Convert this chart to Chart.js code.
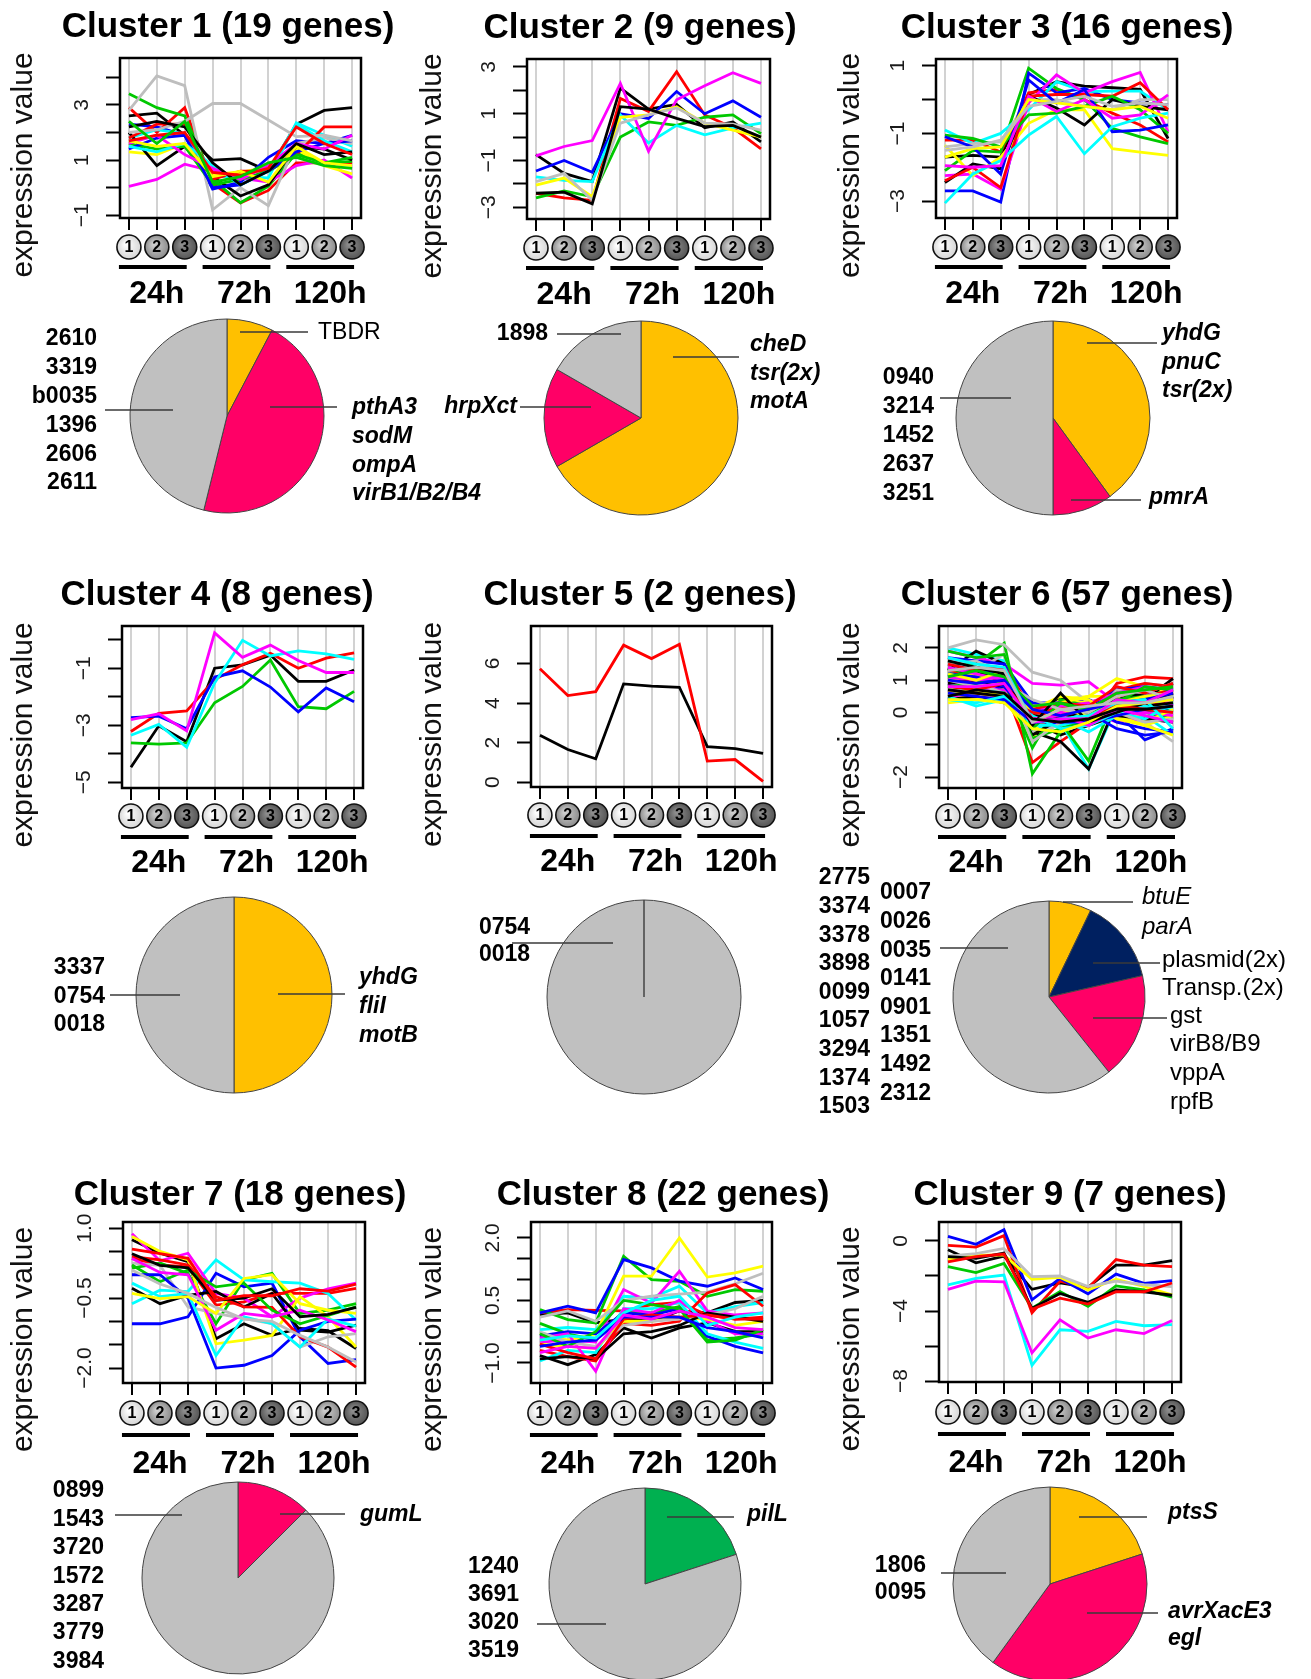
<!DOCTYPE html>
<html lang="en">
<head>
<meta charset="utf-8">
<title>Expression profile clusters</title>
<script src="https://cdn.jsdelivr.net/npm/chart.js@4.4.1/dist/chart.umd.min.js"></script>
<style>
  html, body { margin: 0; padding: 0; background: #fff; }
  #figure { position: relative; width: 1311px; height: 1679px; overflow: hidden; background: #fff; }
  #figure canvas { position: absolute; }
</style>
</head>
<body>
<div id="figure"></div>
<script>
// ---------- shared categories ----------
const REPLICATES = ['1', '2', '3', '1', '2', '3', '1', '2', '3'];
const TIMES = ['24h', '72h', '120h'];
const Y_TITLE = 'expression value';

// ---------- cluster 1 ----------
const C1_TITLE = 'Cluster 1 (19 genes)';
const C1_YRANGE = [-1.1, 4.7];
const C1_YTICKS = [-1, 0, 1, 2, 3, 4];
const C1_YLABELS = ['\u22121', '', '1', '', '3', ''];
const C1_PROFILES = [
  [2.6, 2.7, 1.9, 1.0, 1.05, 0.6, 2.3, 2.8, 2.9],
  [2.9, 2.0, 2.9, 0.15, -0.55, -0.1, 0.9, 0.9, 0.9],
  [3.4, 2.9, 2.6, 0.3, -0.55, 0.05, 1.25, 0.9, 0.95],
  [2.3, 2.2, 1.9, -0.05, 0.2, 1.1, 1.7, 1.6, 1.9],
  [1.8, 2.1, 1.95, 0.4, 0.4, 0.35, 2.35, 1.9, 1.5],
  [0.05, 0.3, 0.85, 0.6, 0.35, 0.2, 0.8, 1.0, 0.35],
  [1.3, 1.2, 1.6, 0.5, 0.55, 0.75, 1.4, 0.8, 0.5],
  [2.8, 4.05, 3.7, -0.8, 0.0, -0.65, 1.6, 1.8, 1.6],
  [2.0, 0.8, 1.5, 0.4, -0.3, 0.1, 1.5, 1.4, 1.0],
  [1.8, 2.3, 2.3, 0.3, 0.6, 0.6, 1.2, 2.2, 2.2],
  [1.6, 1.4, 1.5, 0.1, 0.3, 0.6, 1.2, 0.9, 1.1],
  [1.4, 1.8, 1.9, 0.0, 0.1, 0.6, 1.3, 1.6, 1.7],
  [1.5, 1.3, 1.6, 0.8, 0.1, 0.6, 2.3, 1.7, 1.3],
  [1.6, 1.9, 1.2, 0.7, 0.3, 0.8, 1.6, 1.4, 1.9],
  [1.7, 1.5, 1.6, 0.4, 0.6, 0.2, 1.5, 0.9, 0.8],
  [2.0, 2.1, 2.4, 3.05, 3.05, 2.45, 1.85, 1.9, 1.7],
  [2.2, 2.4, 2.2, 0.9, 0.1, 0.6, 1.6, 1.2, 1.3],
  [1.7, 1.9, 2.0, 0.55, 0.45, 0.7, 2.2, 1.6, 1.2],
  [2.4, 1.6, 2.4, 0.2, 0.4, 0.9, 1.1, 0.8, 0.7]
];
const C1_PIE_COUNTS = [1, 6, 6];
const C1_PIE_GENES = [['TBDR'], ['pthA3', 'sodM', 'ompA', 'virB1/B2/B4'], ['2610', '3319', 'b0035', '1396', '2606', '2611']];

// ---------- cluster 2 ----------
const C2_TITLE = 'Cluster 2 (9 genes)';
const C2_YRANGE = [-3.5, 3.34];
const C2_YTICKS = [-3, -2, -1, 0, 1, 2, 3];
const C2_YLABELS = ['\u22123', '', '\u22121', '', '1', '', '3'];
const C2_PROFILES = [
  [-0.75, -1.55, -1.9, 2.1, 1.2, 1.4, 0.4, 0.65, -0.2],
  [-2.4, -2.6, -2.7, 1.65, 1.1, 2.8, 0.95, 0.4, -0.5],
  [-2.6, -2.3, -2.55, 0.0, 0.65, 0.5, 0.85, 0.95, 0.15],
  [-1.45, -1.0, -1.5, 1.0, 0.8, 1.95, 1.0, 1.55, 0.85],
  [-1.7, -1.85, -1.9, 0.95, -0.25, 0.5, 0.1, 0.4, 0.6],
  [-0.8, -0.4, -0.15, 2.3, -0.6, 1.6, 2.2, 2.75, 2.3],
  [-2.05, -1.75, -2.55, 0.85, 0.95, 1.3, 0.6, 0.3, 0.0],
  [-1.9, -1.55, -2.7, 0.6, 0.95, 1.25, 0.6, 0.55, 0.3],
  [-2.4, -2.35, -2.85, 1.3, 1.2, 0.8, 0.45, 0.5, 0.0]
];
const C2_PIE_COUNTS = [4, 1, 1];
const C2_PIE_GENES = [['cheD', 'tsr(2x)', 'motA'], ['hrpXct'], ['1898']];

// ---------- cluster 3 ----------
const C3_TITLE = 'Cluster 3 (16 genes)';
const C3_YRANGE = [-3.5, 1.2];
const C3_YTICKS = [-3, -2, -1, 0, 1];
const C3_YLABELS = ['\u22123', '', '\u22121', '', '1'];
const C3_PROFILES = [
  [-1.7, -1.65, -1.7, 0.15, 0.53, 0.4, 0.35, 0.3, -1.15],
  [-1.2, -1.2, -1.55, 0.2, 0.3, 0.0, -0.4, -0.75, -1.25],
  [-2.1, -1.5, -1.55, 0.93, 0.33, 0.0, -0.85, -1.1, -1.3],
  [-2.7, -2.7, -3.03, 0.78, 0.2, 0.33, 0.0, -0.1, -0.15],
  [-0.9, -1.3, -1.0, -0.3, 0.53, 0.24, 0.25, 0.25, -0.3],
  [-2.25, -2.2, -2.65, -0.1, 0.73, 0.2, 0.53, 0.8, -0.95],
  [-1.35, -2.25, -1.7, -0.7, -0.3, -0.3, -1.45, -1.55, -1.65],
  [-1.4, -1.3, -1.25, 0.0, 0.0, -0.2, -0.3, 0.0, 0.0],
  [-2.45, -1.9, -2.05, 0.1, -0.25, -0.75, 0.0, -0.2, -0.3],
  [-2.4, -2.0, -2.6, 0.1, 0.15, 0.15, 0.1, 0.5, -0.3],
  [-1.05, -1.15, -1.4, -0.45, -0.4, -0.2, 0.1, -0.3, -1.0],
  [-1.1, -1.4, -2.2, 0.58, -0.1, 0.3, -0.95, -0.9, -0.75],
  [-3.06, -2.2, -1.8, -1.05, -0.5, -1.6, -0.8, -0.55, -0.4],
  [-1.95, -2.0, -1.95, 0.1, -0.35, 0.0, -0.55, -0.45, 0.14],
  [-1.7, -1.45, -1.4, 0.0, -0.1, -0.2, -0.3, -0.2, -0.55],
  [-1.5, -1.4, -1.2, -0.2, -0.05, 0.1, -0.2, -0.1, -0.15]
];
const C3_PIE_COUNTS = [4, 1, 5];
const C3_PIE_GENES = [['yhdG', 'pnuC', 'tsr(2x)'], ['pmrA'], ['0940', '3214', '1452', '2637', '3251']];

// ---------- cluster 4 ----------
const C4_TITLE = 'Cluster 4 (8 genes)';
const C4_YRANGE = [-5.2, 0.48];
const C4_YTICKS = [-5, -4, -3, -2, -1, 0];
const C4_YLABELS = ['\u22125', '', '\u22123', '', '\u22121', ''];
const C4_PROFILES = [
  [-4.47, -3.02, -3.58, -1.0, -0.88, -0.54, -1.46, -1.46, -1.06],
  [-3.22, -2.58, -2.5, -1.4, -0.88, -0.48, -1.0, -0.65, -0.46],
  [-3.62, -3.66, -3.62, -2.21, -1.64, -0.71, -2.35, -2.42, -1.81],
  [-2.73, -2.68, -3.12, -1.31, -1.09, -1.66, -2.53, -1.69, -2.18],
  [-3.35, -2.97, -3.77, -1.52, -0.02, -0.57, -0.39, -0.5, -0.69],
  [-2.8, -2.6, -3.2, 0.24, -0.62, -0.19, -0.73, -1.15, -1.15]
];
const C4_PIE_COUNTS = [3, 3];
const C4_PIE_GENES = [['yhdG', 'fliI', 'motB'], ['3337', '0754', '0018']];

// ---------- cluster 5 ----------
const C5_TITLE = 'Cluster 5 (2 genes)';
const C5_YRANGE = [-0.25, 7.9];
const C5_YTICKS = [0, 2, 4, 6];
const C5_YLABELS = ['0', '2', '4', '6'];
const C5_PROFILES = [
  [2.37, 1.65, 1.18, 4.97, 4.86, 4.8, 1.79, 1.69, 1.45],
  [5.74, 4.38, 4.58, 6.93, 6.25, 6.97, 1.06, 1.14, 0.03]
];
const C5_PIE_COUNTS = [2];
const C5_PIE_GENES = [['0754', '0018']];

// ---------- cluster 6 ----------
const C6_TITLE = 'Cluster 6 (57 genes)';
const C6_YRANGE = [-2.34, 2.68];
const C6_YTICKS = [-2, -1, 0, 1, 2];
const C6_YLABELS = ['\u22122', '', '0', '1', '2'];
const C6_PROFILES = [
  [0.6, 0.6, 0.5, -0.3, -0.7, -0.4, -0.1, 0.0, 0.1],
  [1.1, 1.0, 0.8, -1.55, -0.9, -0.3, 0.9, 1.1, 1.05],
  [1.6, 1.5, 2.15, -1.9, -0.6, -0.2, 0.5, 0.6, 0.7],
  [1.5, 1.3, 1.2, 0.2, 0.2, 0.4, 0.0, -0.85, -0.5],
  [2.0, 1.8, 1.6, -0.2, -0.3, -1.75, 0.2, 0.1, 0.0],
  [1.9, 1.7, 1.5, 0.9, 0.85, 0.95, 0.3, 0.4, 0.6],
  [0.5, 0.5, 0.4, -0.8, 0.4, 0.5, 1.05, 0.8, 0.6],
  [2.0, 2.25, 2.1, 1.25, 1.0, 0.3, -0.2, -0.3, -0.9],
  [1.3, 1.9, 1.5, -0.6, -0.9, -1.75, 0.3, 0.4, 1.05],
  [0.9, 0.8, 0.6, 0.3, 0.2, 0.3, 0.5, 0.5, 0.7],
  [1.2, 1.4, 1.3, -0.3, 0.4, -0.1, -0.1, 0.0, -0.2],
  [1.4, 1.2, 0.9, -0.1, -0.2, -0.2, 0.5, 0.6, 0.4],
  [0.7, 0.6, 0.9, -0.5, -0.3, 0.0, 0.4, 0.3, 0.1],
  [0.5, 0.4, 0.5, 0.0, 0.1, 0.0, -0.3, -0.2, -0.3],
  [0.8, 0.9, 1.1, -0.2, 0.4, 0.3, 0.6, 0.2, 0.3],
  [1.7, 1.3, 1.8, -0.9, -0.2, -0.1, 0.4, 0.9, 0.8],
  [0.4, 0.5, 0.3, -0.1, 0.5, -0.2, 0.1, 0.2, 0.5],
  [1.3, 1.2, 0.9, 0.1, 0.2, 0.1, 0.7, 0.9, 0.8],
  [1.0, 0.8, 0.7, -0.4, -0.3, -1.5, 0.6, 0.4, 0.3],
  [0.9, 0.7, 0.8, 0.1, 0.0, 0.2, -0.3, -0.5, -0.6],
  [0.5, 0.2, 0.4, -0.3, -0.2, -0.6, -0.1, -0.1, -0.7],
  [0.9, 1.0, 0.6, -0.2, 0.0, 0.1, 0.8, 0.6, 0.5],
  [0.3, 0.4, 0.7, -0.4, -0.3, -0.2, -0.1, -0.4, -0.1],
  [1.2, 1.1, 1.0, 0.2, 0.3, -0.3, 0.2, 0.5, 0.6],
  [0.9, 1.0, 0.8, 0.0, 0.5, -0.1, 0.4, 0.6, 0.9],
  [1.0, 0.9, 1.2, -0.1, 0.2, 0.0, 0.3, 0.2, 0.4],
  [1.4, 1.1, 0.9, -1.1, 0.4, 0.2, 0.1, 0.3, 0.5],
  [1.7, 1.6, 1.5, 0.3, 0.3, 0.2, 0.7, 0.8, 0.7],
  [1.2, 1.0, 1.1, 0.0, -0.1, -0.1, 0.2, 0.3, 0.4],
  [0.6, 0.7, 0.7, 0.2, 0.3, 0.2, -0.1, 0.0, -0.1],
  [1.0, 1.2, 1.0, -0.6, 0.3, 0.5, 0.5, -0.3, 0.1],
  [0.8, 0.9, 0.6, -0.6, -0.4, -0.2, 0.7, 0.6, 0.9],
  [1.1, 1.3, 0.9, -0.7, -0.2, 0.1, -0.1, -0.2, -0.3],
  [0.7, 0.6, 0.5, 0.0, -0.1, 0.1, 0.5, 0.7, 0.4],
  [0.8, 0.9, 1.2, -0.8, -0.5, -0.2, 0.4, 0.5, 0.6],
  [1.2, 1.1, 0.8, -0.2, -0.4, 0.0, -0.5, -0.7, -0.6],
  [0.8, 0.7, 0.6, -0.4, -0.4, -0.2, 0.0, -0.2, 0.3],
  [1.4, 1.2, 1.0, 0.1, 0.2, 0.3, 0.6, 0.8, 0.2],
  [0.6, 0.7, 0.5, 0.1, 0.5, 0.4, -0.2, -0.4, -0.7],
  [1.5, 1.6, 1.2, -0.9, -0.3, -0.1, 0.0, -0.3, -0.2],
  [0.7, 0.6, 0.5, -0.1, -0.2, -0.2, 0.2, 0.2, 0.3],
  [1.5, 1.3, 1.4, 0.1, 0.3, 0.2, 0.8, 0.6, 0.9],
  [1.9, 1.7, 1.8, -0.5, 0.3, 0.0, 0.3, 0.8, 0.7],
  [0.6, 0.5, 0.4, -0.3, -0.3, -0.3, -0.1, 0.1, 0.2],
  [0.4, 0.3, 0.5, -0.1, -0.5, -0.4, 0.0, 0.2, 0.0],
  [1.1, 1.0, 1.1, -0.2, -0.1, -0.4, 0.1, -0.1, -0.3],
  [1.2, 1.0, 1.3, -0.3, 0.1, -0.1, 0.3, 0.5, 0.6],
  [1.0, 0.8, 0.9, 0.4, 0.1, 0.0, 0.5, 0.7, 0.4],
  [1.6, 1.4, 1.2, -0.4, 0.6, -0.3, 0.0, 0.3, 0.6],
  [0.8, 0.7, 0.9, -0.2, -0.3, -0.1, 0.2, 0.1, 0.0],
  [1.1, 1.3, 1.1, 0.2, 0.3, 0.1, 0.6, 0.7, 0.8],
  [1.0, 0.9, 1.0, 0.1, -0.1, 0.1, 0.3, 0.4, 0.6],
  [1.7, 1.5, 1.4, -0.3, -0.2, -0.1, 0.3, 0.4, -0.5],
  [0.8, 0.8, 0.9, -0.3, -0.2, -0.2, 0.4, 0.3, 0.7],
  [0.4, 0.4, 0.3, -0.5, -0.6, -0.3, 0.2, 0.3, 0.4],
  [1.3, 1.4, 1.3, -0.3, 0.1, 0.2, 0.3, 0.3, 0.5],
  [0.5, 0.7, 0.6, -0.2, -0.3, -0.2, 0.1, 0.1, 0.2]
];
const C6_PIE_COUNTS = [2, 4, 5, 17];
const C6_PIE_GENES = [
  ['btuE', 'parA'],
  ['plasmid(2x)', 'Transp.(2x)'],
  ['gst', 'virB8/B9', 'vppA', 'rpfB'],
  ['2775', '3374', '3378', '3898', '0099', '1057', '3294', '1374', '1503',
   '0007', '0026', '0035', '0141', '0901', '1351', '1492', '2312']
];

// ---------- cluster 7 ----------
const C7_TITLE = 'Cluster 7 (18 genes)';
const C7_YRANGE = [-2.32, 1.13];
const C7_YTICKS = [-2, -1.5, -1, -0.5, 0, 0.5, 1];
const C7_YLABELS = ['\u22122.0', '', '', '\u22120.5', '', '', '1.0'];
const C7_PROFILES = [
  [0.75, 0.46, 0.28, -1.37, -1.05, -1.3, -1.15, -1.2, -1.58],
  [0.35, 0.21, 0.17, -0.65, -0.58, -0.4, -0.4, -0.4, -0.29],
  [0.14, 0.25, 0.03, -1.05, -0.11, 0.03, -0.83, -0.76, -0.62],
  [-1.05, -1.05, -0.9, 0.03, -0.26, -0.18, -1.33, -1.9, -1.82],
  [-0.62, -0.33, -0.36, 0.32, -0.11, -0.15, -0.18, -0.4, -0.97],
  [0.88, 0.3, 0.46, -0.4, -0.5, -0.9, -0.5, -0.3, -0.18],
  [0.82, 0.5, 0.32, -1.48, -1.4, -1.3, -0.47, -0.9, -1.55],
  [0.25, 0.2, -0.69, -0.83, -0.94, -1.05, -1.55, -1.33, -1.26],
  [-0.29, -0.62, -0.44, -0.36, -0.69, -0.4, -1.19, -1.23, -1.08],
  [0.39, 0.32, 0.21, -0.47, -0.69, -0.7, -1.33, -1.55, -1.98],
  [0.21, -0.15, 0.1, -0.26, -0.18, -0.76, -1.05, -0.87, -0.69],
  [0.0, 0.0, -0.5, -2.0, -1.94, -1.73, -1.19, -1.0, -0.95],
  [-0.18, -0.47, -0.4, -1.73, -0.9, -1.05, -1.55, -0.95, -1.1],
  [0.35, 0.05, 0.0, -1.19, -0.83, -0.9, -0.76, -0.97, -1.22],
  [-0.4, -0.51, -0.47, -0.83, -0.08, 0.0, -0.62, -0.76, -0.83],
  [0.1, -0.2, -0.4, -0.7, -0.95, -1.0, -1.3, -1.55, -1.87],
  [0.45, 0.2, 0.15, -0.55, -0.5, -0.3, -0.9, -0.85, -0.7],
  [0.55, 0.45, 0.35, -0.55, -0.45, -0.45, -0.3, -0.35, -0.2]
];
const C7_PIE_COUNTS = [1, 7];
const C7_PIE_GENES = [['gumL'], ['0899', '1543', '3720', '1572', '3287', '3779', '3984']];

// ---------- cluster 8 ----------
const C8_TITLE = 'Cluster 8 (22 genes)';
const C8_YRANGE = [-1.48, 2.38];
const C8_YTICKS = [-1, -0.5, 0, 0.5, 1, 1.5, 2];
const C8_YLABELS = ['\u22121.0', '', '', '0.5', '', '', '2.0'];
const C8_PROFILES = [
  [0.16, 0.2, -0.04, 0.05, 0.0, 0.25, 0.2, 0.45, 0.5],
  [0.2, 0.28, 0.26, 0.25, 0.4, 0.45, 0.15, 0.05, 0.1],
  [0.28, 0.04, -0.04, 1.56, 1.0, 0.96, 0.6, 0.76, 0.72],
  [0.2, 0.36, 0.2, 1.48, 1.28, 0.96, 0.84, 1.04, 0.76],
  [-0.2, -0.15, -0.2, 0.6, 0.56, 0.84, 0.2, 0.35, 0.45],
  [-0.5, -0.45, -0.5, 0.76, 0.44, 1.2, 0.25, 0.15, 0.2],
  [-0.28, -0.45, -0.3, 1.08, 1.08, 2.0, 1.06, 1.16, 1.32],
  [0.1, 0.25, 0.0, 0.5, 0.6, 0.65, 0.7, 0.9, 1.15],
  [-0.82, -1.04, -0.8, -0.16, -0.4, -0.16, -0.04, -0.24, -0.25],
  [-0.7, -0.85, -0.95, -0.05, -0.1, 0.0, 0.68, 0.88, 0.36],
  [-0.05, -0.3, -0.45, 0.25, 0.2, 0.35, -0.45, -0.4, -0.3],
  [-0.35, -0.25, -0.3, 0.2, 0.15, 0.3, -0.36, -0.6, -0.76],
  [-0.95, -0.7, -0.75, 0.3, 0.3, 0.45, -0.3, -0.5, -0.65],
  [-0.4, -0.3, -1.2, 0.3, 0.2, 0.5, 0.0, -0.3, -0.3],
  [-0.55, -0.6, -0.65, 0.0, 0.0, 0.1, 0.05, -0.1, 0.0],
  [-0.25, -0.5, -0.6, -0.1, 0.0, 0.05, 0.15, 0.3, 0.6],
  [-0.9, -0.85, -0.9, -0.3, -0.25, -0.1, 0.2, 0.1, 0.0],
  [-0.55, -0.75, -0.9, 0.05, 0.15, 0.1, 0.15, 0.05, 0.05],
  [-0.3, -0.6, -0.25, 0.5, 0.4, 0.3, -0.5, -0.45, -0.2],
  [-0.6, -0.5, -0.45, 0.1, 0.1, 0.1, -0.15, -0.25, -0.4],
  [-0.45, -0.35, -0.4, 0.2, 0.5, 0.6, -0.1, 0.1, 0.2],
  [-0.75, -0.6, -0.65, 0.15, 0.05, 0.25, 0.1, -0.15, -0.2]
];
const C8_PIE_COUNTS = [1, 4];
const C8_PIE_GENES = [['pilL'], ['1240', '3691', '3020', '3519']];

// ---------- cluster 9 ----------
const C9_TITLE = 'Cluster 9 (7 genes)';
const C9_YRANGE = [-8.05, 1.08];
const C9_YTICKS = [-8, -6, -4, -2, 0];
const C9_YLABELS = ['\u22128', '', '\u22124', '', '0'];
const C9_PROFILES = [
  [-0.5, -1.25, -0.87, -2.76, -2.4, -2.65, -1.38, -1.38, -1.13],
  [-0.25, -0.35, 0.3, -4.1, -2.3, -2.7, -1.06, -1.38, -1.47],
  [-1.47, -1.81, -1.29, -3.84, -2.89, -3.74, -2.57, -2.8, -3.21],
  [0.26, -0.19, 0.64, -3.36, -2.14, -3.02, -1.89, -2.42, -2.27],
  [-2.51, -2.14, -1.95, -7.1, -5.07, -5.16, -4.59, -4.84, -4.78],
  [-2.76, -2.29, -2.33, -6.39, -4.5, -5.54, -5.07, -5.29, -4.54],
  [-1.06, -0.81, -0.81, -2.19, -2.08, -2.8, -2.19, -2.6, -3.08],
  [-0.87, -0.72, -0.43, -2.04, -2.0, -2.6, -2.3, -2.5, -2.6],
  [-0.9, -1.0, -0.7, -3.85, -3.0, -3.5, -2.8, -2.9, -3.1],
  [-1.2, -0.9, -0.75, -3.9, -3.27, -3.6, -2.9, -2.9, -2.4]
];
const C9_PIE_COUNTS = [1, 2, 2];
const C9_PIE_GENES = [['ptsS'], ['avrXacE3', 'egl'], ['1806', '0095']];

// ---------- styling ----------
const FAMILY = '"Liberation Sans", Arial, Helvetica, sans-serif';
const LINE_COLORS = ['#000000', '#FF0000', '#00C800', '#0000FF', '#00FFFF', '#FF00FF', '#FFFF00', '#BEBEBE'];
const PIE_COLORS = { yellow: '#FFC000', pink: '#FF0066', gray: '#C0C0C0', navy: '#002060', green: '#00B050' };
const REP_FILLS = [['#ffffff', '#d6d6d6'], ['#cfcfcf', '#8c8c8c'], ['#8e8e8e', '#555555']];
const HOUR_SHIFT = [0, 4, 6];
const NOTE_FONTS = {
  id: `bold 23px ${FAMILY}`,
  gene: `italic bold 23px ${FAMILY}`,
  plain: `23px ${FAMILY}`,
  plainItalic: `italic 24px ${FAMILY}`,
  plainLarge: `24px ${FAMILY}`
};

// per row: title baseline, axis title shift, replicate marker row, time bar, time label
const ROW_GEOM = [
  { titleDy: -21, yTitleDy: 27, circleDy: 29, barDy: 49, hourDy: 85 },
  { titleDy: -21, yTitleDy: 28, circleDy: 28, barDy: 49, hourDy: 84 },
  { titleDy: -17, yTitleDy: 37, circleDy: 30, barDy: 52, hourDy: 90 }
];
const COL_YTITLE_X = [24, 433, 851];

const PROFILE_PANELS = [
  { title: C1_TITLE, profiles: C1_PROFILES, yTicks: C1_YTICKS, yLabels: C1_YLABELS, yRange: C1_YRANGE, box: [120, 58, 361, 218], titleX: 228, row: 0, col: 0 },
  { title: C2_TITLE, profiles: C2_PROFILES, yTicks: C2_YTICKS, yLabels: C2_YLABELS, yRange: C2_YRANGE, box: [527, 59, 770, 219], titleX: 640, row: 0, col: 1 },
  { title: C3_TITLE, profiles: C3_PROFILES, yTicks: C3_YTICKS, yLabels: C3_YLABELS, yRange: C3_YRANGE, box: [936, 59, 1177, 218], titleX: 1067, row: 0, col: 2 },
  { title: C4_TITLE, profiles: C4_PROFILES, yTicks: C4_YTICKS, yLabels: C4_YLABELS, yRange: C4_YRANGE, box: [122, 626, 363, 788], titleX: 217, row: 1, col: 0 },
  { title: C5_TITLE, profiles: C5_PROFILES, yTicks: C5_YTICKS, yLabels: C5_YLABELS, yRange: C5_YRANGE, box: [531, 626, 772, 787], titleX: 640, row: 1, col: 1 },
  { title: C6_TITLE, profiles: C6_PROFILES, yTicks: C6_YTICKS, yLabels: C6_YLABELS, yRange: C6_YRANGE, box: [939, 626, 1182, 788], titleX: 1067, row: 1, col: 2 },
  { title: C7_TITLE, profiles: C7_PROFILES, yTicks: C7_YTICKS, yLabels: C7_YLABELS, yRange: C7_YRANGE, box: [123, 1222, 365, 1383], titleX: 240, row: 2, col: 0 },
  { title: C8_TITLE, profiles: C8_PROFILES, yTicks: C8_YTICKS, yLabels: C8_YLABELS, yRange: C8_YRANGE, box: [531, 1222, 772, 1383], titleX: 663, row: 2, col: 1 },
  { title: C9_TITLE, profiles: C9_PROFILES, yTicks: C9_YTICKS, yLabels: C9_YLABELS, yRange: C9_YRANGE, box: [939, 1222, 1181, 1382], titleX: 1070, row: 2, col: 2 }
];

const PIE_COLUMNS = [[0, 520], [420, 440], [800, 511]];
const PIE_PANELS = [
  { counts: C1_PIE_COUNTS, genes: C1_PIE_GENES, fills: ['yellow', 'pink', 'gray'], cx: 227, cy: 416, r: 97, col: 0, notes: [
    { slice: 0, x: 318, y: 333, align: 'left', font: 'plain', leader: [240, 308, 332] },
    { slice: 1, x: 352, y: 408, gap: 28.7, align: 'left', font: 'gene', leader: [270, 337, 407] },
    { slice: 2, x: 97, y: 339, gap: 28.8, align: 'right', font: 'id', leader: [105, 173, 410] } ] },
  { counts: C2_PIE_COUNTS, genes: C2_PIE_GENES, fills: ['yellow', 'pink', 'gray'], cx: 641, cy: 418, r: 97, col: 1, notes: [
    { slice: 0, x: 750, y: 345, gap: 28.5, align: 'left', font: 'gene', leader: [673, 739, 357] },
    { slice: 1, x: 517, y: 407, align: 'right', font: 'gene', leader: [520, 591, 407] },
    { slice: 2, x: 548, y: 334, align: 'right', font: 'id', leader: [557, 621, 334] } ] },
  { counts: C3_PIE_COUNTS, genes: C3_PIE_GENES, fills: ['yellow', 'pink', 'gray'], cx: 1053, cy: 418, r: 97, col: 2, notes: [
    { slice: 0, x: 1162, y: 334, gap: 28.5, align: 'left', font: 'gene', leader: [1087, 1157, 343] },
    { slice: 1, x: 1149, y: 498, align: 'left', font: 'gene', leader: [1071, 1141, 500] },
    { slice: 2, x: 934, y: 378, gap: 29, align: 'right', font: 'id', leader: [940, 1011, 398] } ] },
  { counts: C4_PIE_COUNTS, genes: C4_PIE_GENES, fills: ['yellow', 'gray'], cx: 234, cy: 995, r: 98, col: 0, notes: [
    { slice: 0, x: 359, y: 978, gap: 29, align: 'left', font: 'gene', leader: [278, 345, 994] },
    { slice: 1, x: 105, y: 968, gap: 28.5, align: 'right', font: 'id', leader: [110, 180, 995] } ] },
  { counts: C5_PIE_COUNTS, genes: C5_PIE_GENES, fills: ['gray'], cx: 644, cy: 997, r: 97, col: 1, notes: [
    { slice: 0, x: 479, y: 928, gap: 27, align: 'left', font: 'id', leader: [512, 613, 943] } ] },
  { counts: C6_PIE_COUNTS, genes: C6_PIE_GENES, fills: ['yellow', 'navy', 'pink', 'gray'], cx: 1049, cy: 997, r: 96, col: 2, notes: [
    { slice: 0, x: 1142, y: 897, gap: 30, align: 'left', font: 'plainItalic', leader: [1063, 1133, 902] },
    { slice: 1, x: 1162, y: 960, gap: 28, align: 'left', font: 'plainLarge', leader: [1093, 1160, 963] },
    { slice: 2, x: 1170, y: 1016, gap: 28.7, align: 'left', font: 'plainLarge', leader: [1093, 1167, 1018] },
    { slice: 3, from: 0, to: 9, x: 870, y: 878, gap: 28.6, align: 'right', font: 'id', leader: [940, 1008, 948] },
    { slice: 3, from: 9, to: 17, x: 880, y: 893, gap: 28.6, align: 'left', font: 'id' } ] },
  { counts: C7_PIE_COUNTS, genes: C7_PIE_GENES, fills: ['pink', 'gray'], cx: 238, cy: 1578, r: 96, col: 0, notes: [
    { slice: 0, x: 360, y: 1515, align: 'left', font: 'gene', leader: [280, 345, 1514] },
    { slice: 1, x: 104, y: 1491, gap: 28.4, align: 'right', font: 'id', leader: [115, 182, 1515] } ] },
  { counts: C8_PIE_COUNTS, genes: C8_PIE_GENES, fills: ['green', 'gray'], cx: 645, cy: 1584, r: 96, col: 1, notes: [
    { slice: 0, x: 747, y: 1515, align: 'left', font: 'gene', leader: [667, 734, 1517] },
    { slice: 1, x: 468, y: 1567, gap: 28, align: 'left', font: 'id', leader: [537, 606, 1624] } ] },
  { counts: C9_PIE_COUNTS, genes: C9_PIE_GENES, fills: ['yellow', 'pink', 'gray'], cx: 1050, cy: 1584, r: 97, col: 2, notes: [
    { slice: 0, x: 1168, y: 1513, align: 'left', font: 'gene', leader: [1079, 1147, 1517] },
    { slice: 1, x: 1168, y: 1612, gap: 27, align: 'left', font: 'gene', leader: [1087, 1158, 1613] },
    { slice: 2, x: 926, y: 1566, gap: 27, align: 'right', font: 'id', leader: [941, 1006, 1573] } ] }
];

// ---------- drawing ----------
const figure = document.getElementById('figure');

function makeCanvas(left, top, width, height) {
  const c = document.createElement('canvas');
  c.width = width; c.height = height;
  c.style.left = left + 'px'; c.style.top = top + 'px';
  c.style.width = width + 'px'; c.style.height = height + 'px';
  figure.appendChild(c);
  return c;
}

// frame, heading, rotated tick labels, replicate markers and time spans of one profile plot
function profileDecor(p, cl, geom, yTitleX) {
  return {
    id: 'profileDecor',
    afterDatasetsDraw(chart) {
      const a = chart.chartArea, ctx = chart.ctx;
      ctx.save();
      ctx.strokeStyle = '#000';
      ctx.lineWidth = 2.5;
      ctx.strokeRect(a.left, a.top, a.right - a.left, a.bottom - a.top);
      ctx.restore();
    },
    afterDraw(chart) {
      const ctx = chart.ctx, a = chart.chartArea, xs = chart.scales.x, ys = chart.scales.y;
      ctx.save();
      ctx.fillStyle = '#000';
      ctx.font = `bold 35px ${FAMILY}`;
      ctx.textAlign = 'center';
      ctx.textBaseline = 'alphabetic';
      ctx.fillText(p.title, p.titleX - cl, a.top + geom.titleDy);

      ctx.save();
      ctx.translate(yTitleX - cl, (a.top + a.bottom) / 2 + geom.yTitleDy);
      ctx.rotate(-Math.PI / 2);
      ctx.font = `30px ${FAMILY}`;
      ctx.textBaseline = 'middle';
      ctx.fillStyle = '#111';
      ctx.fillText(Y_TITLE, 0, 0);
      ctx.restore();

      ctx.font = `21px ${FAMILY}`;
      ctx.fillStyle = '#1a1a1a';
      p.yTicks.forEach((v, i) => {
        const txt = p.yLabels[i];
        if (!txt) return;
        ctx.save();
        ctx.translate(a.left - 38, ys.getPixelForValue(v));
        ctx.rotate(-Math.PI / 2);
        ctx.textAlign = 'center';
        ctx.textBaseline = 'middle';
        ctx.fillText(txt, 0, 0);
        ctx.restore();
      });

      const cy = a.bottom + geom.circleDy;
      REPLICATES.forEach((rep, i) => {
        const x = xs.getPixelForValue(i + 1);
        const k = Number(rep) - 1;
        const g = ctx.createRadialGradient(x - 3, cy - 3, 1, x, cy, 12);
        g.addColorStop(0, REP_FILLS[k][0]);
        g.addColorStop(1, REP_FILLS[k][1]);
        ctx.beginPath();
        ctx.arc(x, cy, 12, 0, Math.PI * 2);
        ctx.fillStyle = g;
        ctx.fill();
        ctx.lineWidth = 1.6;
        ctx.strokeStyle = '#111';
        ctx.stroke();
        ctx.fillStyle = '#000';
        ctx.font = `bold 16px ${FAMILY}`;
        ctx.textAlign = 'center';
        ctx.textBaseline = 'middle';
        ctx.fillText(rep, x, cy + 1);
      });

      TIMES.forEach((t, g) => {
        const xa = xs.getPixelForValue(g * 3 + 1);
        const xb = xs.getPixelForValue(g * 3 + 3);
        const xm = xs.getPixelForValue(g * 3 + 2);
        ctx.beginPath();
        ctx.moveTo(xa - 10, a.bottom + geom.barDy);
        ctx.lineTo(xb + 2, a.bottom + geom.barDy);
        ctx.lineWidth = 4;
        ctx.strokeStyle = '#000';
        ctx.stroke();
        ctx.fillStyle = '#000';
        ctx.font = `bold 32px ${FAMILY}`;
        ctx.textAlign = 'center';
        ctx.textBaseline = 'alphabetic';
        ctx.fillText(t, xm + HOUR_SHIFT[g], a.bottom + geom.hourDy);
      });
      ctx.restore();
    }
  };
}

// gene names and leader lines around one pie
function pieNotes(p, cl, ct) {
  return {
    id: 'pieNotes',
    afterDraw(chart) {
      const ctx = chart.ctx;
      ctx.save();
      p.notes.forEach(nt => {
        if (nt.leader) {
          const [x1, x2, ly] = nt.leader;
          ctx.beginPath();
          ctx.moveTo(x1 - cl, ly - ct);
          ctx.lineTo(x2 - cl, ly - ct);
          ctx.lineWidth = 1.4;
          ctx.strokeStyle = '#3a3a3a';
          ctx.stroke();
        }
        const names = p.genes[nt.slice].slice(nt.from || 0, nt.to === undefined ? undefined : nt.to);
        ctx.font = NOTE_FONTS[nt.font];
        ctx.textAlign = nt.align;
        ctx.textBaseline = 'middle';
        ctx.fillStyle = '#000';
        names.forEach((t, k) => ctx.fillText(t, nt.x - cl, nt.y + k * (nt.gap || 0) - ct));
      });
      ctx.restore();
    }
  };
}

PROFILE_PANELS.forEach(p => {
  const [x0, y0, x1, y1] = p.box;
  const padL = 135, padT = 62, padR = 85, padB = 100;
  const cl = x0 - padL, ct = y0 - padT;
  const cw = padL + (x1 - x0) + padR, ch = padT + (y1 - y0) + padB;
  const canvas = makeCanvas(cl, ct, cw, ch);
  const n = p.profiles.length;
  const geom = ROW_GEOM[p.row];
  new Chart(canvas, {
    type: 'line',
    data: {
      datasets: p.profiles.map((vals, i) => ({
        data: vals.map((v, j) => ({ x: j + 1, y: v })),
        borderColor: LINE_COLORS[i % LINE_COLORS.length],
        borderWidth: 2.8,
        pointRadius: 0,
        tension: 0,
        fill: false,
        order: n - i
      }))
    },
    options: {
      responsive: false,
      animation: false,
      devicePixelRatio: 1,
      events: [],
      layout: { padding: { left: padL, top: padT, right: padR, bottom: padB } },
      plugins: { legend: { display: false }, tooltip: { enabled: false } },
      scales: {
        x: {
          type: 'linear',
          min: 1 - 0.32,
          max: REPLICATES.length + 0.32,
          afterBuildTicks: s => { s.ticks = REPLICATES.map((_, i) => ({ value: i + 1 })); },
          afterFit: s => { s.height = 0; },
          grid: { color: '#d2d2d2', lineWidth: 2, drawTicks: true, tickLength: 12, tickColor: '#000', tickWidth: 2 },
          border: { display: false },
          ticks: { display: false }
        },
        y: {
          type: 'linear',
          min: p.yRange[0],
          max: p.yRange[1],
          afterBuildTicks: s => { s.ticks = p.yTicks.map(v => ({ value: v })); },
          afterFit: s => { s.width = 0; },
          grid: { drawOnChartArea: false, drawTicks: true, tickLength: 14, tickColor: '#000', tickWidth: 2 },
          border: { display: false },
          ticks: { display: false }
        }
      }
    },
    plugins: [profileDecor(p, cl, geom, COL_YTITLE_X[p.col])]
  });
});

PIE_PANELS.forEach(p => {
  const [cl, cw] = PIE_COLUMNS[p.col];
  const ct = p.cy - 135, ch = 270;
  const canvas = makeCanvas(cl, ct, cw, ch);
  const m = p.r + 3;
  new Chart(canvas, {
    type: 'pie',
    data: {
      datasets: [{
        data: p.counts,
        backgroundColor: p.fills.map(f => PIE_COLORS[f]),
        borderColor: '#444',
        borderWidth: 1
      }]
    },
    options: {
      responsive: false,
      animation: false,
      devicePixelRatio: 1,
      events: [],
      radius: p.r,
      layout: { padding: { left: p.cx - m - cl, right: cl + cw - (p.cx + m), top: p.cy - m - ct, bottom: ct + ch - (p.cy + m) } },
      plugins: { legend: { display: false }, tooltip: { enabled: false } }
    },
    plugins: [pieNotes(p, cl, ct)]
  });
});
</script>
</body>
</html>
